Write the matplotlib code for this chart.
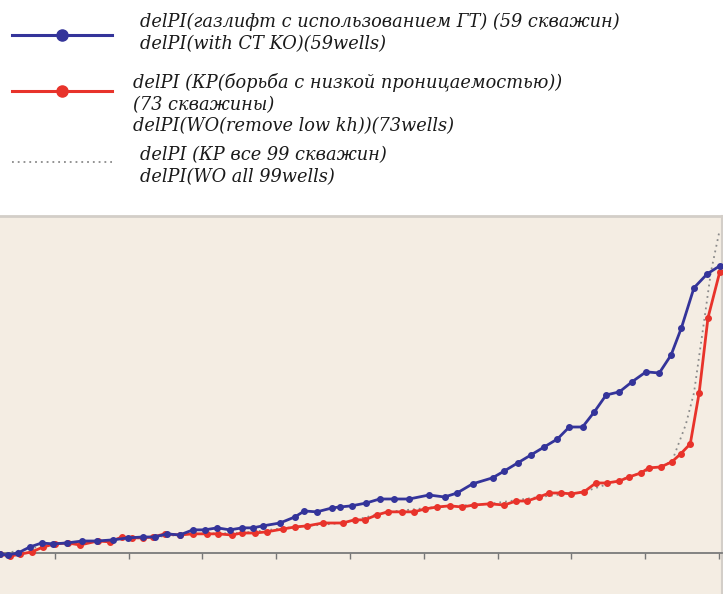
import matplotlib.pyplot as plt
from matplotlib.lines import Line2D

# Share of wells (%) and delPI
blue_x = [2.6, 3.6, 5.0, 6.6, 8.2, 9.7, 11.6, 13.7, 15.7, 17.9, 19.9, 21.9, 23.5, 25.2,
          26.9, 28.7, 30.3, 32.0, 33.7, 35.4, 36.8, 38.2, 40.5, 42.5, 43.8, 45.5, 47.6,
          48.6, 50.2, 52.2, 54.0, 56.0, 58.0, 60.7, 62.8, 64.5, 66.6, 69.3, 70.9, 72.7,
          74.5, 76.3, 78.1, 79.7, 81.5, 83.1, 84.7, 86.5, 88.2, 90.1, 91.9, 93.5, 94.9,
          96.6, 98.4, 100.1]
blue_y = [-0.4, -0.7, 0.0, 2.1, 3.5, 3.2, 3.5, 4.2, 4.2, 4.6, 5.3, 5.6, 5.6, 6.7,
          6.3, 8.1, 8.1, 8.8, 8.1, 8.8, 8.8, 9.5, 10.5, 12.6, 14.7, 14.4, 15.8,
          16.1, 16.5, 17.5, 18.9, 18.9, 18.9, 20.3, 19.6, 21.0, 24.2, 26.3, 28.7, 31.5,
          34.3, 37.1, 39.9, 44.1, 44.1, 49.4, 55.3, 56.4, 59.9, 63.4, 63.0, 69.3, 78.8,
          92.8, 97.7, 100.5]

red_x = [2.6, 3.9, 5.3, 6.9, 8.4, 10.0, 11.8, 13.4, 15.8, 17.4, 19.1, 20.4, 21.9, 23.3,
         24.9, 26.9, 28.7, 30.6, 32.1, 34.0, 35.3, 37.1, 38.7, 40.9, 42.5, 44.2, 46.3,
         49.0, 50.6, 52.0, 53.6, 55.1, 57.0, 58.7, 60.1, 61.8, 63.5, 65.2, 66.8, 68.9,
         70.9, 72.5, 74.0, 75.6, 77.0, 78.6, 80.0, 81.7, 83.3, 84.8, 86.5, 87.8, 89.4,
         90.5, 92.1, 93.6, 94.8, 96.1, 97.3, 98.5, 100.1]
red_y = [-0.4, -1.1, -0.4, 0.4, 2.1, 3.2, 3.5, 2.8, 4.2, 3.9, 5.6, 5.3, 5.3, 5.6,
         6.7, 6.3, 6.7, 6.7, 6.7, 6.3, 7.0, 7.0, 7.4, 8.4, 9.1, 9.5, 10.5,
         10.5, 11.6, 11.6, 13.3, 14.4, 14.4, 14.4, 15.4, 16.1, 16.5, 16.1, 16.8, 17.2,
         16.8, 18.2, 18.2, 19.6, 21.0, 21.0, 20.7, 21.4, 24.5, 24.5, 25.2, 26.6, 28.0,
         29.8, 30.1, 31.9, 34.7, 38.2, 56.0, 82.3, 98.4]

# all 99 wells: runs under the red line, splits off at the top end
gray_x = [2.6, 10.0, 15.8, 21.9, 28.7, 35.3, 42.5, 49.0, 55.1, 61.8, 68.9, 75.6, 81.7,
          87.8, 93.6, 95.5, 96.6, 98.0, 98.9, 100.0]
gray_y = [-0.4, 3.2, 4.2, 5.3, 6.7, 7.0, 9.1, 10.5, 14.4, 16.1, 17.2, 19.6, 21.4,
          26.6, 31.9, 45.0, 56.0, 81.6, 98.4, 112.0]

xticks = [10, 20, 30, 40, 50, 60, 70, 80, 90, 100]

labels = [
    "delPI(газлифт с использованием ГТ) (59 скважин)\ndelPI(with CT KO)(59wells)",
    "delPI (КР(борьба с низкой проницаемостью))\n(73 скважины)\ndelPI(WO(remove low kh))(73wells)",
    "delPI (КР все 99 скважин)\ndelPI(WO all 99wells)",
]

blue = "#34349a"
red = "#e8332b"
gray = "#8a8a8a"
beige = "#f4ede3"
edge = "#d3cec8"

fig = plt.figure(figsize=(7.23, 5.94), dpi=100)
fig.patch.set_facecolor("white")

ax = fig.add_axes([0, 0, 722 / 723, 378 / 594])
ax.set_facecolor(beige)

ax.plot(gray_x, gray_y, color=gray, lw=1.3, ls=(0, (1, 2.2)), zorder=2)
ax.plot(red_x, red_y, color=red, lw=2.0, marker="o", ms=4, zorder=3)
ax.plot(blue_x, blue_y, color=blue, lw=2.0, marker="o", ms=4, zorder=4)

ax.set_xlim(2.56, 100.4)
ax.set_ylim(-14.35, 117.95)
ax.set_xticks(xticks)
ax.set_yticks([])
ax.tick_params(axis="x", direction="out", length=4, width=1, color="#777777",
               labelbottom=False)

ax.spines["left"].set_visible(False)
ax.spines["top"].set_color(edge)
ax.spines["top"].set_linewidth(2)
ax.spines["right"].set_color(edge)
ax.spines["right"].set_linewidth(1.5)
ax.spines["bottom"].set_position(("data", 0))
ax.spines["bottom"].set_color("#7a7a7a")
ax.spines["bottom"].set_linewidth(1.3)

# legend drawn by hand above the panel
W, H = 723, 594
handles = [
    dict(color=blue, ls="-", marker="o", y=35),
    dict(color=red, ls="-", marker="o", y=91),
    dict(color=gray, ls=(0, (1, 2.2)), marker=None, y=162),
]
text_pos = [(140, 13), (133, 73), (140, 146)]
for h, lab, (tx, ty) in zip(handles, labels, text_pos):
    lw = 2.2 if h["marker"] else 1.3
    fig.add_artist(Line2D([12 / W, 112 / W], [1 - h["y"] / H] * 2, color=h["color"],
                          lw=lw, ls=h["ls"], transform=fig.transFigure))
    if h["marker"]:
        fig.add_artist(Line2D([62 / W], [1 - h["y"] / H], color=h["color"], marker="o",
                              ms=8, transform=fig.transFigure))
    fig.text(tx / W, 1 - ty / H, lab, ha="left", va="top", fontsize=12.8,
             family="DejaVu Serif", style="italic", linespacing=1.27,
             color="#1a1a1a")

fig.savefig("out.png", dpi=100, facecolor="white")
